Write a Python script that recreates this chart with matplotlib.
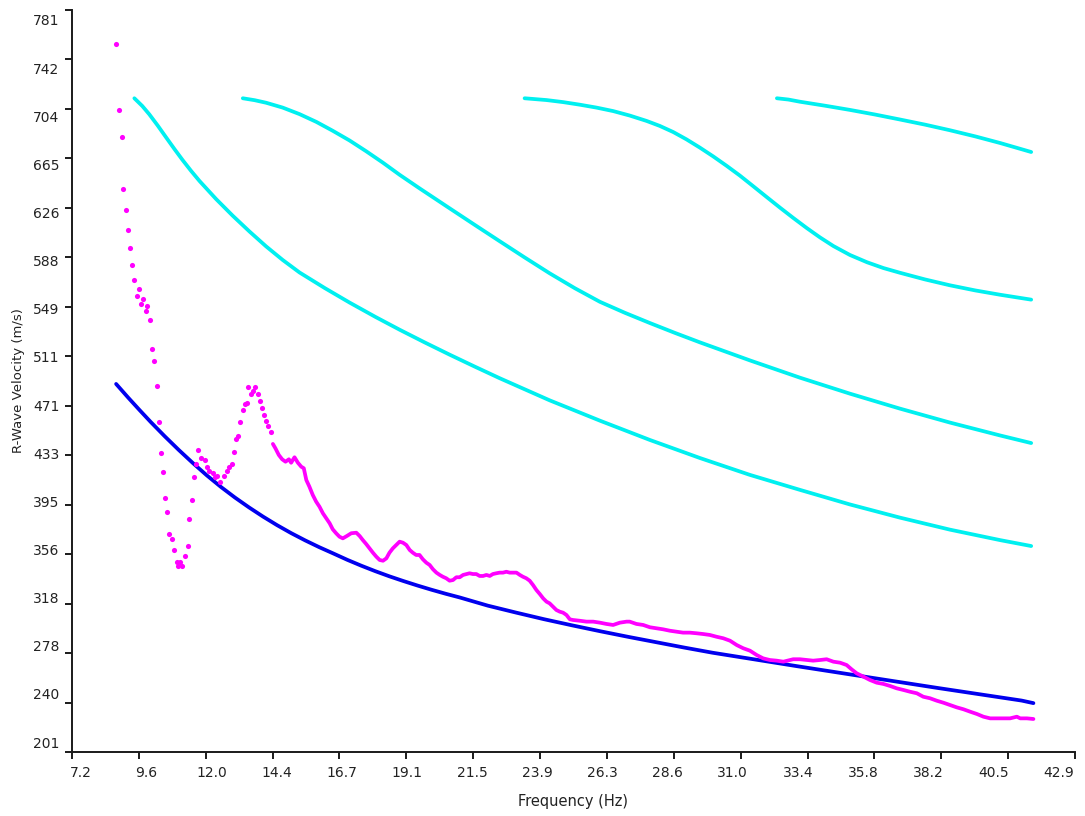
import matplotlib
matplotlib.use("Agg")
import matplotlib.pyplot as plt
from matplotlib.transforms import ScaledTranslation
import numpy as np

# ---------------- data ----------------
yticklabels = ['201', '240', '278', '318', '356', '395', '433', '471', '511',
               '549', '588', '626', '665', '704', '742', '781']
xticklabels = ['7.2', '9.6', '12.0', '14.4', '16.7', '19.1', '21.5', '23.9',
               '26.3', '28.6', '31.0', '33.4', '35.8', '38.2', '40.5', '42.9']

# theoretical fundamental mode (blue)
blue_f = [8.77, 9.2, 9.6, 10.0, 10.5, 11.0, 11.5, 12.0, 12.5, 13.0, 13.5, 14.0,
          14.5, 15.0, 15.5, 16.0, 16.5, 17.0, 17.5, 18.0, 18.5, 19.0, 19.5,
          20.0, 20.5, 21.0, 22.0, 23.0, 24.0, 25.0, 26.0, 27.0, 28.0, 29.0,
          30.0, 31.0, 32.0, 33.0, 34.0, 35.0, 36.0, 37.0, 38.0, 39.0, 40.0,
          41.0, 41.42]
blue_v = [488.7, 478.0, 468.4, 459.0, 447.8, 437.1, 426.9, 417.2, 408.2, 399.9,
          392.2, 385.0, 378.3, 372.1, 366.4, 361.1, 356.2, 351.2, 346.6, 342.3,
          338.3, 334.6, 331.1, 327.8, 324.7, 321.8, 315.4, 310.0, 304.8, 300.0,
          295.4, 291.0, 286.8, 282.6, 278.6, 275.1, 271.6, 268.1, 264.7, 261.3,
          257.9, 254.5, 251.1, 247.8, 244.5, 241.2, 239.2]

# higher modes (cyan)
c1_f = [9.42, 9.7, 9.95, 10.25, 10.55, 10.85, 11.14, 11.44, 11.74, 12.33, 12.92,
        13.52, 14.11, 14.7, 15.3, 16.2, 17.08, 18.0, 18.86, 19.75, 20.64, 21.53,
        22.42, 24.2, 25.99, 27.77, 29.55, 31.33, 33.11, 34.89, 36.67, 38.45,
        40.24, 41.34]
c1_v = [712.0, 706.0, 699.5, 690.7, 681.4, 672.2, 663.6, 655.2, 647.3, 633.2,
        620.2, 607.8, 596.2, 585.6, 575.8, 563.6, 552.3, 541.1, 531.1, 521.2,
        511.6, 502.3, 493.2, 475.9, 460.0, 444.9, 430.8, 417.6, 405.9, 394.5,
        384.2, 374.8, 366.6, 362.0]

c2_f = [13.28, 13.7, 14.11, 14.7, 15.3, 15.9, 16.48, 17.08, 17.67, 18.27,
        18.86, 19.57, 20.64, 21.53, 22.42, 23.31, 24.2, 25.1, 25.99, 26.88,
        27.77, 28.66, 29.55, 31.33, 33.11, 34.89, 36.67, 38.45, 40.24, 41.34]
c2_v = [712.0, 710.5, 708.5, 704.7, 699.6, 693.5, 686.6, 679.0, 670.6, 661.6,
        652.2, 641.6, 626.0, 613.1, 600.3, 587.6, 575.2, 563.5, 552.9, 544.3,
        536.3, 528.6, 521.2, 507.1, 493.6, 481.1, 469.4, 458.5, 448.4, 442.5]

c3_f = [23.31, 24.09, 24.68, 25.27, 25.87, 26.46, 27.05, 27.65, 28.12, 28.6,
        29.07, 29.55, 30.02, 30.5, 30.97, 31.45, 31.92, 32.4, 32.87, 33.35,
        33.82, 34.3, 34.89, 35.5, 36.08, 36.67, 37.56, 38.45, 39.35, 40.24,
        41.34]
c3_v = [712.0, 710.6, 709.0, 707.0, 704.7, 702.0, 698.5, 694.3, 690.4, 685.6,
        679.9, 673.4, 666.6, 659.2, 651.6, 643.2, 634.9, 626.5, 618.5, 610.6,
        603.3, 596.5, 589.5, 583.8, 579.3, 575.6, 570.4, 565.8, 561.8, 558.4,
        554.6]

c4_f = [32.29, 32.7, 33.11, 34.0, 34.89, 35.78, 36.67, 37.56, 38.45, 39.35,
        40.24, 41.34]
c4_v = [712.0, 711.0, 709.3, 706.2, 702.9, 699.3, 695.4, 691.4, 687.0, 682.2,
        677.0, 670.0]

# experimental dispersion picks (magenta)
mag_f = [8.77, 8.89, 8.98, 9.03, 9.12, 9.18, 9.28, 9.32, 9.42, 9.57, 9.53,
         9.73, 9.67, 9.88, 9.84, 9.98, 10.03, 10.13, 10.23, 10.29, 10.37,
         10.43, 10.52, 10.58, 10.67, 10.77, 10.83, 10.92, 10.98, 11.05, 11.13,
         11.23, 11.32, 11.38, 11.47, 11.53, 11.62, 11.67, 11.80, 11.92, 12.01,
         12.09, 12.21, 12.29, 12.37, 12.47, 12.60, 12.70, 12.79, 12.90, 12.95,
         13.04, 13.10, 13.18, 13.28, 13.36, 13.43, 13.48, 13.58, 13.63, 13.73,
         13.83, 13.88, 13.97, 14.04, 14.11, 14.19, 14.28,
         14.35, 14.44, 14.56, 14.68, 14.80, 14.92, 15.00, 15.12, 15.24, 15.36,
         15.45, 15.54, 15.65, 15.77, 15.89, 16.01, 16.13, 16.25, 16.37, 16.48,
         16.60, 16.72, 16.84, 16.98, 17.14, 17.32, 17.44, 17.55, 17.67, 17.79,
         17.91, 18.03, 18.15, 18.27, 18.39, 18.50, 18.62, 18.74, 18.86, 18.98,
         19.10, 19.22, 19.33, 19.45, 19.57, 19.69, 19.81, 19.93, 20.05, 20.17,
         20.29, 20.40, 20.52, 20.64, 20.76, 20.88, 21.00, 21.12, 21.24, 21.35,
         21.47, 21.59, 21.71, 21.83, 21.95, 22.07, 22.18, 22.30, 22.42, 22.54,
         22.66, 22.78, 22.90, 23.02, 23.14, 23.25, 23.37, 23.49, 23.61, 23.73,
         23.85, 23.97, 24.09, 24.20, 24.32, 24.44, 24.56, 24.68, 24.80, 24.92,
         25.03, 25.27, 25.51, 25.75, 25.99, 26.22, 26.46, 26.70, 26.94, 27.05,
         27.29, 27.53, 27.77, 28.01, 28.24, 28.48, 28.72, 28.95, 29.19, 29.43,
         29.67, 29.90, 30.14, 30.38, 30.62, 30.86, 31.09, 31.33, 31.57, 31.80,
         32.04, 32.28, 32.52, 32.87, 33.11, 33.35, 33.58, 33.82, 34.06, 34.30,
         34.54, 34.77, 34.95, 35.13, 35.37, 35.60, 35.84, 36.08, 36.32, 36.55,
         36.79, 37.03, 37.27, 37.50, 37.74, 37.98, 38.22, 38.45, 38.69, 38.93,
         39.17, 39.41, 39.64, 39.88, 40.12, 40.36, 40.59, 40.83, 40.95, 41.19,
         41.42]
mag_v = [754.4, 702.8, 681.7, 641.1, 624.8, 609.3, 595.0, 581.7, 570.0, 563.2,
         557.7, 555.3, 551.0, 549.9, 545.5, 538.9, 516.0, 506.9, 487.3, 458.7,
         434.5, 420.1, 399.5, 388.4, 371.2, 367.3, 358.7, 349.8, 346.6, 349.8,
         346.6, 354.4, 362.3, 382.9, 398.2, 416.0, 425.9, 436.8, 431.0, 429.5,
         424.0, 420.4, 418.9, 416.0, 417.0, 412.3, 417.0, 420.6, 423.5, 425.9,
         435.5, 445.7, 447.8, 458.7, 468.6, 472.8, 473.8, 486.1, 481.1, 483.2,
         486.1, 480.6, 475.1, 469.7, 464.4, 459.7, 455.6, 451.1,
         441.8, 438.4, 433.2, 429.8, 427.9, 429.8, 427.1, 431.4, 427.1, 424.0,
         422.8, 413.6, 408.4, 401.9, 396.7, 392.7, 387.6, 383.7, 379.8, 375.1,
         372.0, 369.3, 368.0, 369.8, 372.0, 372.4, 369.8, 366.7, 363.6, 360.2,
         356.8, 353.7, 351.1, 350.5, 352.4, 356.8, 360.2, 362.8, 365.4, 364.6,
         362.8, 358.9, 356.8, 355.0, 355.0, 351.6, 349.0, 347.2, 343.8, 341.2,
         339.4, 338.0, 336.8, 334.9, 335.4, 337.6, 337.6, 339.4, 340.1, 340.7,
         340.1, 340.1, 338.6, 338.6, 339.4, 338.6, 340.1, 340.7, 341.2, 341.2,
         341.9, 341.2, 341.2, 341.2, 339.4, 338.0, 336.8, 334.9, 331.5, 327.6,
         324.5, 321.1, 318.5, 317.2, 314.6, 312.0, 310.7, 309.9, 308.1, 304.7,
         304.2, 303.6, 302.9, 302.9, 302.1, 301.1, 300.3, 302.1, 302.9, 302.9,
         301.1, 300.3, 298.5, 297.7, 296.9, 295.8, 295.0, 294.3, 294.3, 293.8,
         293.2, 292.5, 291.1, 289.9, 288.0, 284.6, 282.1, 280.2, 276.8, 274.2,
         272.9, 272.4, 271.6, 273.5, 273.5, 272.9, 272.4, 272.9, 273.5, 271.6,
         270.8, 269.0, 265.6, 262.5, 259.9, 257.3, 255.2, 254.2, 252.6, 250.8,
         249.5, 248.1, 246.9, 244.2, 243.0, 241.1, 239.5, 237.7, 235.9, 234.4,
         232.5, 230.7, 228.6, 227.3, 227.3, 227.3, 227.3, 228.6, 227.3, 227.3,
         226.8]

# ---------------- plot ----------------
W, H, DPI = 1085, 816, 100
fig = plt.figure(figsize=(W / DPI, H / DPI), dpi=DPI)
ax = fig.add_axes([72 / W, 1 - 752 / H, (1075 - 72) / W, (752 - 10) / H])

CYAN = '#00F0F0'
MAG = '#FF00FF'
BLUE = '#0000EE'
LW = 2.7

for f, v in [(c1_f, c1_v), (c2_f, c2_v), (c3_f, c3_v), (c4_f, c4_v)]:
    ax.plot(f, v, color=CYAN, lw=LW, solid_capstyle='round',
            solid_joinstyle='round', zorder=2)
ax.plot(blue_f, blue_v, color=BLUE, lw=LW, solid_capstyle='round',
        solid_joinstyle='round', zorder=3)

mf = np.array(mag_f)
mv = np.array(mag_v)
dense = mf >= 14.3
ax.plot(mf[dense], mv[dense], color=MAG, lw=LW, solid_capstyle='round',
        solid_joinstyle='round', zorder=4)
ax.plot(mf[~dense], mv[~dense], linestyle='none', marker='o', ms=3.7,
        mfc=MAG, mec=MAG, mew=0, zorder=4)

ax.set_xlim(7.2, 42.9)
ax.set_ylim(201, 781)
ax.set_xticks(np.linspace(7.2, 42.9, len(xticklabels)))
ax.set_xticklabels(xticklabels)
ax.set_yticks(np.linspace(201, 781, len(yticklabels)))
ax.set_yticklabels(yticklabels)

for s in ['top', 'right']:
    ax.spines[s].set_visible(False)
for s in ['left', 'bottom']:
    ax.spines[s].set_linewidth(1.4)
    ax.spines[s].set_color('#1a1a1a')
ax.tick_params(direction='out', length=5, width=1.4, color='#1a1a1a',
               labelsize=10, labelcolor='#222222')
ax.tick_params(axis='x', pad=5)
ax.tick_params(axis='y', pad=4)

# the reference tick labels are laid out on a slightly compressed spacing
px = 72.0 / DPI  # points per pixel
for i, lab in enumerate(ax.get_xticklabels()):
    dx = (9.3 - 1.73 * i) * px / 72.0
    lab.set_transform(lab.get_transform() + ScaledTranslation(dx, 0, fig.dpi_scale_trans))
for i, lab in enumerate(ax.get_yticklabels()):
    dy = (10.0 - 1.33 * i) * px / 72.0
    lab.set_transform(lab.get_transform() + ScaledTranslation(0, dy, fig.dpi_scale_trans))

ax.set_ylabel('R-Wave Velocity (m/s)', fontsize=9.5, color='#222222')
ax.yaxis.set_label_coords(-0.047, 0.5)
ax.set_xlabel('Frequency (Hz)', fontsize=10.5, color='#222222')
ax.xaxis.set_label_coords(0.5, -0.057)

fig.savefig('out.png', dpi=DPI)
